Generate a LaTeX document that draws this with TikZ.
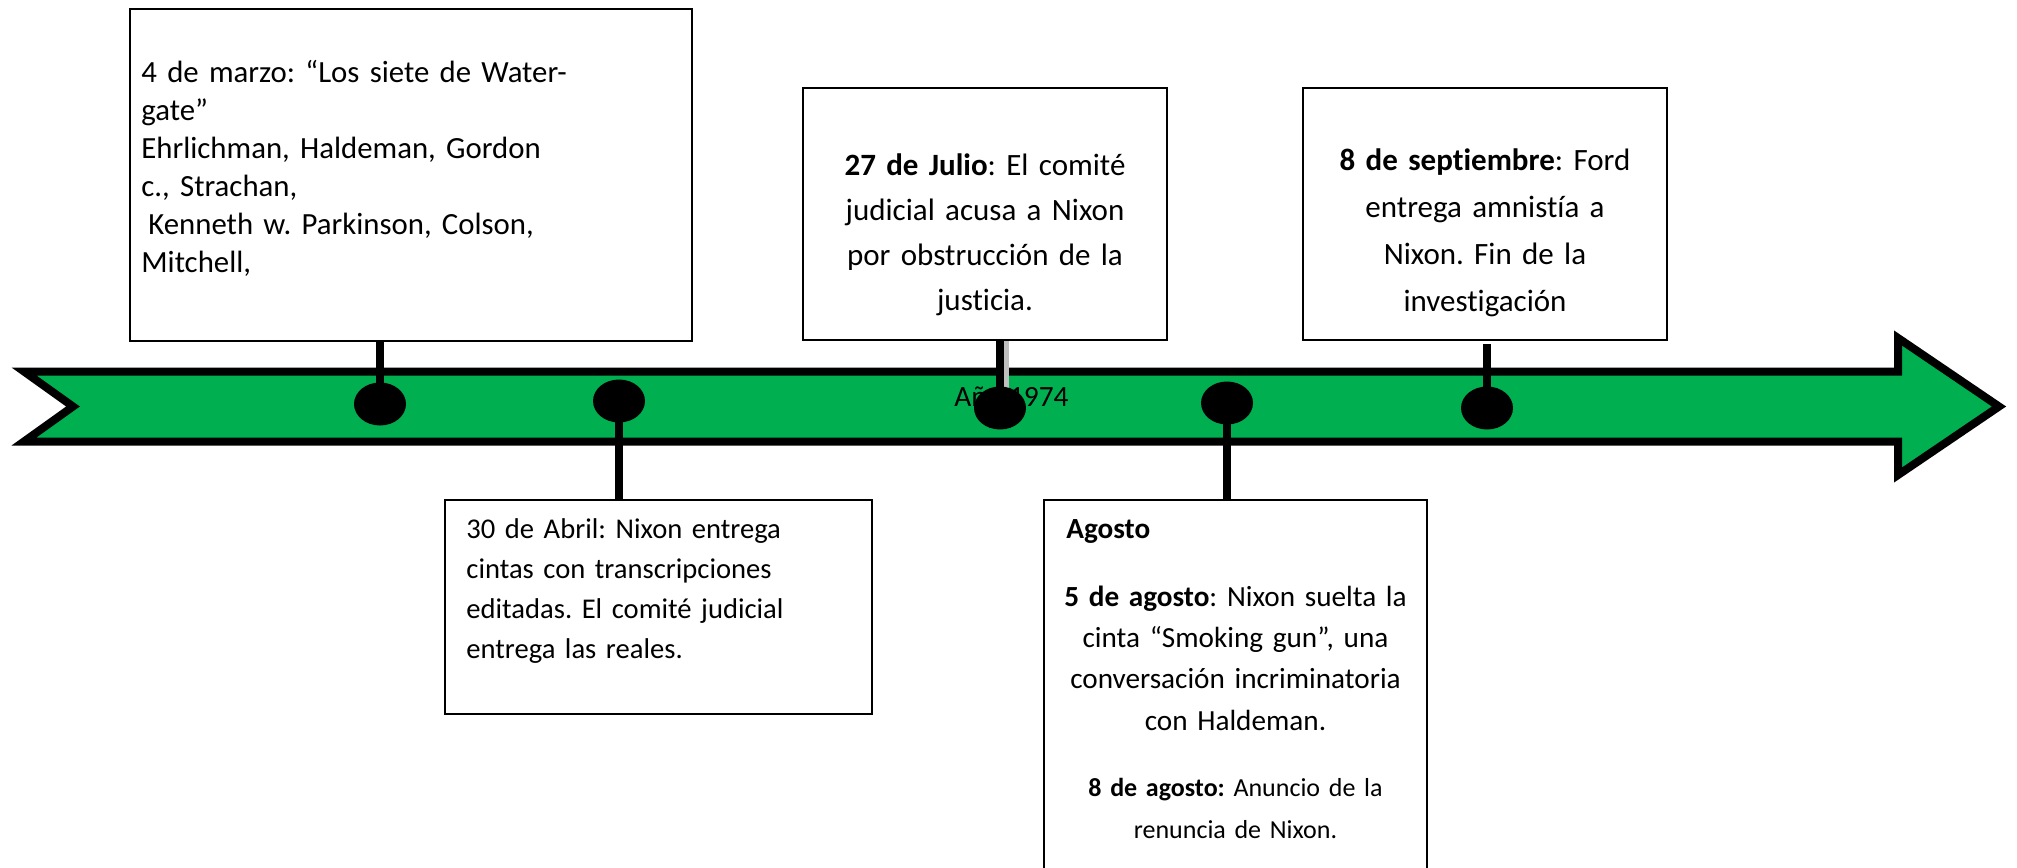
\documentclass[tikz,border=0pt]{standalone}
\usepackage{fontspec}
\setmainfont{Carlito}[Ligatures={NoCommon}]
\usetikzlibrary{shapes.geometric}
\definecolor{bandgreen}{HTML}{00B050}
\frenchspacing

\begin{document}
\begin{tikzpicture}[x=0.5pt,y=-0.5pt,
        eventbox/.style={draw,line width=1pt,inner sep=0pt},
        eventtext/.style={inner sep=0pt,anchor=base},
        marker/.style={ellipse,fill=black,inner sep=0pt,minimum width=26pt,minimum height=21.5pt},
        stem/.style={line width=4pt}]
            \useasboundingbox (0,0) rectangle (2017,867);
            \fill[white] (0,0) rectangle (2017,867);
            \clip (0,0) rectangle (2017,867);

            \draw[line width=4pt,miter limit=20,fill=bandgreen]
                (24,371.5) -- (1898,371.5) -- (1898,338) -- (1999,406.5)
                -- (1898,475) -- (1898,441.5) -- (24,441.5) -- (73,406.5) -- cycle
            ;
            \node[eventtext,anchor=base west,font=\fontsize{14.7}{17}\selectfont] (anio) at (954,406) {Año 1974};

            \node[eventbox,minimum width=281pt,minimum height=166pt] (marzo) at (411,175) {};
            \node[eventbox,minimum width=213.5pt,minimum height=107pt] (abril) at (658.5,607) {};
            \node[eventbox,minimum width=182pt,minimum height=126pt] (julio) at (985,214) {};
            \node[eventbox,minimum width=191.5pt,minimum height=200pt] (agosto) at (1235.5,700) {};
            \node[eventbox,minimum width=182pt,minimum height=126pt] (sept) at (1485,214) {};

            \node[eventtext,anchor=base west,text width=270pt,align=left,font=\fontsize{15.4}{19}\selectfont] (marzotxt) at (141,82)
                {4 de marzo: “Los siete de Water-\\gate”\\Ehrlichman, Haldeman, Gordon\\c., Strachan,\\\hspace*{3.5pt}Kenneth w. Parkinson, Colson,\\Mitchell,};
            \node[eventtext,anchor=base west,text width=205pt,align=left,font=\fontsize{14.3}{20}\selectfont] (abriltxt) at (466,538)
                {30 de Abril: Nixon entrega\\cintas con transcripciones\\editadas. El comité judicial\\entrega las reales.};
            \node[eventtext,text width=180pt,align=center,font=\fontsize{15.5}{22.5}\selectfont] (juliotxt) at (985,175)
                {\textbf{27 de Julio}: El comité\\judicial acusa a Nixon\\por obstrucción de la\\justicia.};
            \node[eventtext,text width=180pt,align=center,font=\fontsize{15.5}{23.5}\selectfont] (septtxt) at (1485,170)
                {\textbf{8 de septiembre}: Ford\\entrega amnistía a\\Nixon. Fin de la\\investigación};
            \node[eventtext,anchor=base west,font=\fontsize{14.6}{20.5}\selectfont\bfseries] (agostotit) at (1066,538) {Agosto};
            \node[eventtext,text width=188pt,align=center,font=\fontsize{14.6}{20.7}\selectfont] (ago5txt) at (1235.5,606)
                {\textbf{5 de agosto}: Nixon suelta la\\cinta “Smoking gun”, una\\conversación incriminatoria\\con Haldeman.};
            \node[eventtext,text width=188pt,align=center,font=\fontsize{13}{21}\selectfont] (ago8txt) at (1235.5,796)
                {\textbf{8 de agosto:} Anuncio de la\\renuncia de Nixon.};

            \coordinate (p1) at (380,404);
            \coordinate (p2) at (619,401);
            \coordinate (p3) at (1000,408);
            \coordinate (p4) at (1227,403);
            \coordinate (p5) at (1487,408);

            \draw[line width=6pt,black!25] ([xshift=1.5pt]julio.south -| p3) -- ([xshift=1.5pt]p3);
            \draw[stem] (p1) -- (p1 |- marzo.south);
            \draw[stem] (p2) -- (p2 |- abril.north);
            \draw[stem] (p3) -- (p3 |- julio.south);
            \draw[stem] (p4) -- (p4 |- agosto.north);
            \draw[stem] (p5) -- ([yshift=-1.5pt]p5 |- sept.south);

            \node[marker] (d1) at (p1) {};
            \node[marker] (d2) at (p2) {};
            \node[marker] (d3) at (p3) {};
            \node[marker] (d4) at (p4) {};
            \node[marker] (d5) at (p5) {};
\end{tikzpicture}
\end{document}
